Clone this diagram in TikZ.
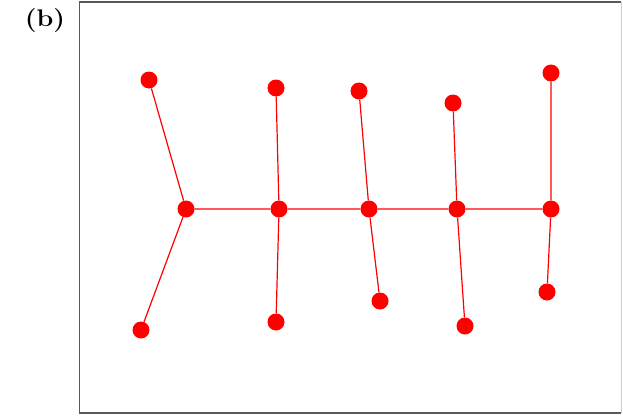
\documentclass[tikz,border=0pt]{standalone}
\usepackage{fontspec}
\begin{document}
\begin{tikzpicture}[x=1pt,y=-1pt,
  dot/.style={circle,fill=red,inner sep=0pt,minimum size=17pt},
  edge/.style={draw=red,line width=1.2pt}]
\useasboundingbox (0,0) rectangle (623,415);
\fill[white] (0,0) rectangle (623,415);
% frame
\draw[black!65,line width=1.6pt] (621,2) -- (79.5,2) -- (79.5,413) -- (621,413);
\draw[black!20,line width=1pt] (621.5,2) -- (621.5,413);
\node[inner sep=0pt,xscale=1.12] (lbl) at (45,21) {\fontsize{24}{28}\selectfont\bfseries (b)};
% spine
\node[dot] (s1) at (186,209) {};
\node[dot] (s2) at (279,209) {};
\node[dot] (s3) at (369,209) {};
\node[dot] (s4) at (457,209) {};
\node[dot] (s5) at (551,209) {};
% top
\node[dot] (t1) at (149,80) {};
\node[dot] (t2) at (276,88) {};
\node[dot] (t3) at (359,91) {};
\node[dot] (t4) at (453,103) {};
\node[dot] (t5) at (551,73) {};
% bottom
\node[dot] (b1) at (141,330) {};
\node[dot] (b2) at (276,322) {};
\node[dot] (b3) at (380,301) {};
\node[dot] (b4) at (465,326) {};
\node[dot] (b5) at (547,292) {};
\path[edge] (s1) -- (s2) (s2) -- (s3) (s3) -- (s4) (s4) -- (s5)
  (s1) -- (t1) (s1) -- (b1)
  (s2) -- (t2) (s2) -- (b2)
  (s3) -- (t3) (s3) -- (b3)
  (s4) -- (t4) (s4) -- (b4)
  (s5) -- (t5) (s5) -- (b5);
\end{tikzpicture}
\end{document}
